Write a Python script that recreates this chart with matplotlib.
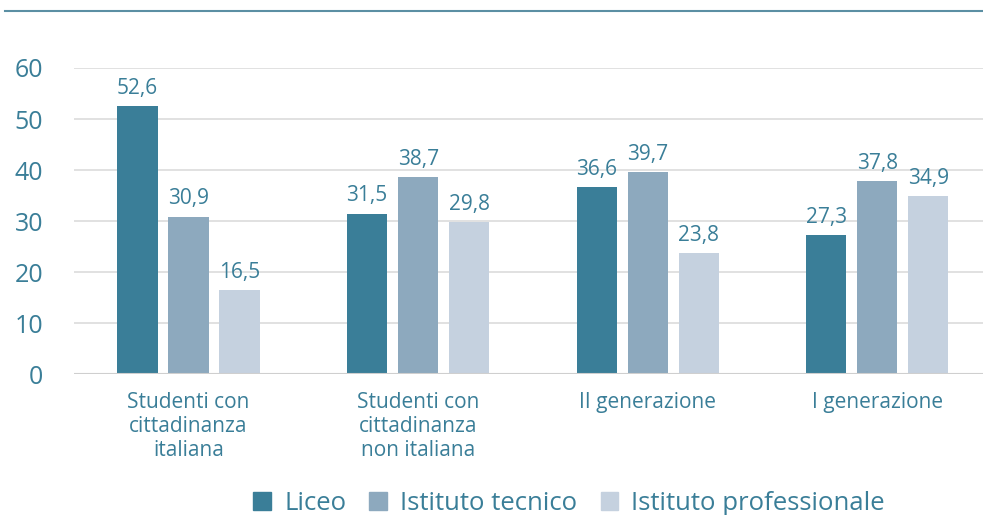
import numpy as np
import matplotlib.pyplot as plt
from matplotlib.lines import Line2D
from matplotlib.patches import Patch

plt.rcParams['font.family'] = ['Open Sans', 'DejaVu Sans']

categorie = ['Studenti con\ncittadinanza\nitaliana', 'Studenti con\ncittadinanza\nnon italiana',
             'II generazione', 'I generazione']
serie = ['Liceo', 'Istituto tecnico', 'Istituto professionale']
liceo = [52.6, 31.5, 36.6, 27.3]
tecnico = [30.9, 38.7, 39.7, 37.8]
professionale = [16.5, 29.8, 23.8, 34.9]
colori = ['#3a7e98', '#8da9be', '#c5d1df']
testo = '#3a7e98'

fig = plt.figure(figsize=(9.83, 5.15), dpi=100)
ax = fig.add_axes([0.075, 0.273, 0.925, 0.595])

x = np.arange(len(categorie))
w = 0.175
step = 0.222
for i, (vals, col) in enumerate(zip([liceo, tecnico, professionale], colori)):
    pos = x + (i - 1) * step
    ax.bar(pos, vals, width=w, color=col, zorder=3)
    for p, v in zip(pos, vals):
        ax.text(p, v + 1.4, f'{v:.1f}'.replace('.', ','), ha='center', va='bottom',
                fontsize=15, color=testo)

ax.set_xlim(-0.5, 3.46)
ax.set_ylim(0, 60)
ax.set_yticks(range(0, 61, 10))
ax.yaxis.grid(True, color='#dcdcdc', linewidth=1.2, zorder=0)
ax.axhline(0, color='#cfcfcf', linewidth=1.5, zorder=4)
for s in ax.spines.values():
    s.set_visible(False)
ax.tick_params(axis='both', length=0, colors=testo)
ax.tick_params(axis='y', labelsize=18, pad=22)
ax.set_xticks(x)
ax.set_xticklabels(categorie, fontsize=15, linespacing=1.18)
ax.tick_params(axis='x', pad=13)

handles = [Patch(color=c, label=s) for c, s in zip(colori, serie)]
leg = fig.legend(handles=handles, loc='center', bbox_to_anchor=(0.579, 0.022), ncol=3,
                 frameon=False, fontsize=18.5, handlelength=0.7, handleheight=0.7,
                 handletextpad=0.5, columnspacing=0.9)
for t in leg.get_texts():
    t.set_color(testo)

fig.add_artist(Line2D([0.005, 1.0], [0.979, 0.979], color='#5b8fa3', linewidth=1.5))

fig.savefig('out.png', dpi=100)
